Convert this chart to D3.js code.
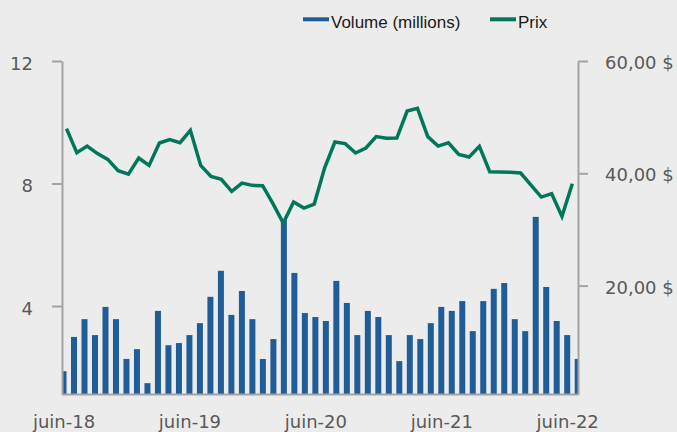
<!DOCTYPE html>
<html>
<head>
<meta charset="utf-8">
<script src="https://cdn.jsdelivr.net/npm/d3@7"></script>
<style>
  body { margin: 0; background: #ececec; }
  #wrapper { width: 677px; height: 432px; }
</style>
</head>
<body>
<div id="wrapper"></div>
<script>
const months = [
  "2018-06","2018-07","2018-08","2018-09","2018-10","2018-11","2018-12",
  "2019-01","2019-02","2019-03","2019-04","2019-05","2019-06","2019-07","2019-08","2019-09","2019-10","2019-11","2019-12",
  "2020-01","2020-02","2020-03","2020-04","2020-05","2020-06","2020-07","2020-08","2020-09","2020-10","2020-11","2020-12",
  "2021-01","2021-02","2021-03","2021-04","2021-05","2021-06","2021-07","2021-08","2021-09","2021-10","2021-11","2021-12",
  "2022-01","2022-02","2022-03","2022-04","2022-05","2022-06","2022-07"
];
const volumes = [
  1.87, 2.99, 3.57, 3.05, 3.97, 3.57, 2.27, 2.59, 1.48, 3.84, 2.72, 2.79,
  3.05, 3.44, 4.30, 5.15, 3.71, 4.49, 3.57, 2.27, 2.92, 6.80, 5.08, 3.77,
  3.64, 3.51, 4.82, 4.10, 3.05, 3.84, 3.64, 3.05, 2.20, 3.05, 2.92, 3.44,
  3.97, 3.84, 4.16, 3.18, 4.16, 4.56, 4.75, 3.57, 3.18, 6.91, 4.62, 3.51,
  3.05, 2.27
];
const prices = [
  47.95, 43.68, 44.85, 43.50, 42.48, 40.47, 39.86, 42.72, 41.41, 45.39, 45.99, 45.46,
  47.65, 41.41, 39.45, 38.92, 36.78, 38.26, 37.85, 37.80, 34.59, 31.13, 34.88, 33.81,
  34.52, 40.93, 45.57, 45.28, 43.61, 44.50, 46.53, 46.23, 46.28, 51.09, 51.57, 46.53,
  44.85, 45.42, 43.37, 42.89, 44.80, 40.29, 40.24, 40.17, 40.04, 37.90, 35.77, 36.37,
  32.33, 38.15
];
const xTickMonths = ["2018-06", "2019-06", "2020-06", "2021-06", "2022-06"];
const xTickLabels = ["juin-18", "juin-19", "juin-20", "juin-21", "juin-22"];
const volumeTicks = [4, 8, 12];
const priceTicks = [20, 40, 60];
const legendItems = ["Volume (millions)", "Prix"];

const barColor = "#1f5c98";
const lineColor = "#00775a";
const axisColor = "#a3a3a3";
const labelColor = "#595959";

function drawChart() {
  let dimensions = {
    width: 677,
    height: 432,
    left: 62,
    right: 578,
    top: 61,
    bottom: 394.5,
  };

  const svg = d3.select("#wrapper").append("svg")
    .attr("width", dimensions.width)
    .attr("height", dimensions.height)
    .style("background", "#ececec");

  const frLocale = d3.formatLocale({
    decimal: ",",
    thousands: "\u00a0",
    grouping: [3],
    currency: ["", " $"],
  });
  const priceFormat = frLocale.format("$,.2f");

  // scales
  const xBar = d3.scalePoint()
    .domain(months)
    .range([63.5, 577.7]);

  const xLine = d3.scalePoint()
    .domain(months)
    .range([66.5, 572.3]);

  const yVolume = d3.scaleLinear()
    .domain([1.11, 12])
    .range([dimensions.bottom, dimensions.top]);

  const yPrice = d3.scaleLinear()
    .domain([0.6, 60])
    .range([dimensions.bottom, dimensions.top]);

  svg.append("clipPath")
    .attr("id", "plot-clip")
    .append("rect")
    .attr("x", dimensions.left)
    .attr("y", 0)
    .attr("width", dimensions.right - dimensions.left)
    .attr("height", dimensions.bottom);

  // bars
  const barWidth = 6;
  svg.append("g")
    .attr("clip-path", "url(#plot-clip)")
    .selectAll("rect")
    .data(volumes)
    .join("rect")
    .attr("x", (d, i) => xBar(months[i]) - barWidth / 2)
    .attr("y", d => yVolume(d))
    .attr("width", barWidth)
    .attr("height", d => dimensions.bottom - yVolume(d))
    .attr("fill", barColor);

  // x axis
  const xAxisGenerator = d3.axisBottom(xBar)
    .tickValues(xTickMonths)
    .tickFormat((d, i) => xTickLabels[i])
    .tickSize(0)
    .tickPadding(21);

  const xAxis = svg.append("g")
    .attr("transform", `translate(0,${dimensions.bottom})`)
    .call(xAxisGenerator);
  xAxis.select(".domain").remove();

  svg.append("line")
    .attr("x1", dimensions.left)
    .attr("x2", dimensions.right)
    .attr("y1", dimensions.bottom)
    .attr("y2", dimensions.bottom)
    .attr("stroke", axisColor)
    .attr("stroke-width", 2);

  // left axis
  const yAxisGenerator = d3.axisLeft(yVolume)
    .tickValues(volumeTicks)
    .tickSize(10)
    .tickSizeOuter(0)
    .tickPadding(19);

  const yAxis = svg.append("g")
    .attr("transform", `translate(${dimensions.left},0)`)
    .call(yAxisGenerator);
  yAxis.selectAll("text").attr("dy", "0.47em");

  // right axis
  const y2AxisGenerator = d3.axisRight(yPrice)
    .tickValues(priceTicks)
    .tickFormat(priceFormat)
    .tickSize(10)
    .tickSizeOuter(0)
    .tickPadding(17);

  const y2Axis = svg.append("g")
    .attr("transform", `translate(${dimensions.right},0)`)
    .call(y2AxisGenerator);
  y2Axis.selectAll("text").attr("dy", "0.42em");

  [xAxis, yAxis, y2Axis].forEach(axis => {
    axis.selectAll(".domain, .tick line")
      .attr("stroke", axisColor)
      .attr("stroke-width", 2);
    axis.selectAll("text")
      .attr("fill", labelColor)
      .style("font-family", "'DejaVu Sans', sans-serif")
      .style("font-size", "18px");
  });

  // price line
  const lineGenerator = d3.line()
    .x((d, i) => xLine(months[i]))
    .y(d => yPrice(d));

  svg.append("path")
    .attr("d", lineGenerator(prices))
    .attr("fill", "none")
    .attr("stroke", lineColor)
    .attr("stroke-width", 3.5);

  // legend
  const legend = svg.append("g")
    .style("font-family", "'Liberation Sans', Arial, sans-serif")
    .style("font-size", "17px");

  const legendX = [303, 490];
  const legendColors = [barColor, lineColor];
  legendItems.forEach((label, i) => {
    legend.append("rect")
      .attr("x", legendX[i])
      .attr("y", 17.3)
      .attr("width", 26)
      .attr("height", 4)
      .attr("fill", legendColors[i]);
    legend.append("text")
      .attr("x", legendX[i] + 28)
      .attr("y", 27.5)
      .attr("fill", "#1a1a1a")
      .text(label);
  });
}

drawChart();
</script>
</body>
</html>
